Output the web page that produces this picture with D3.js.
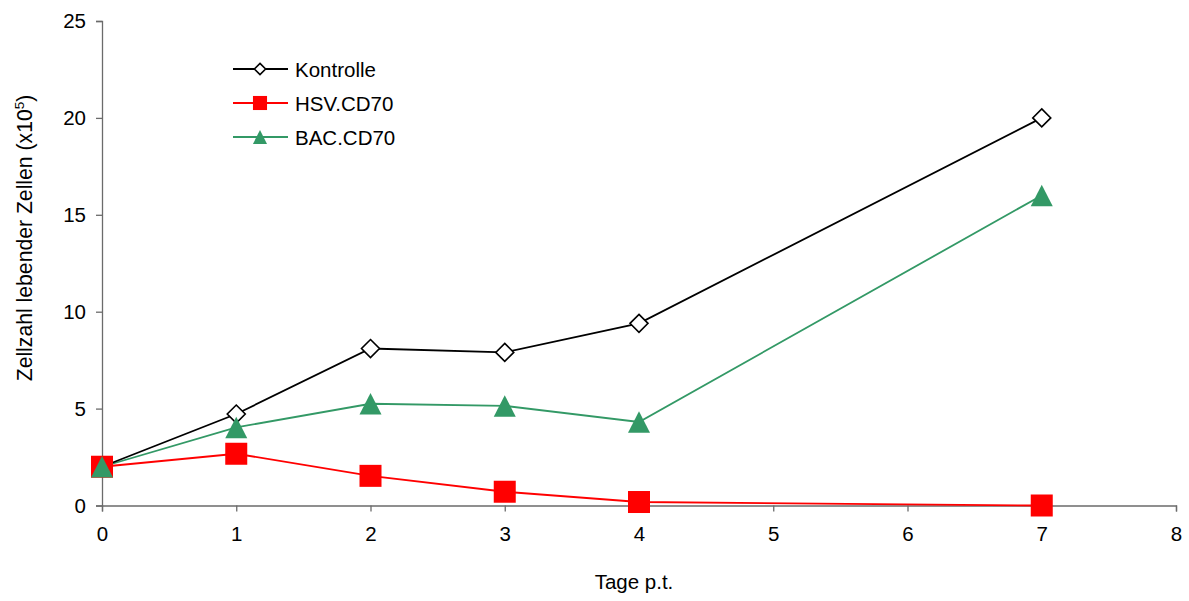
<!DOCTYPE html>
<html>
<head>
<meta charset="utf-8">
<script src="https://cdn.jsdelivr.net/npm/d3@7"></script>
<style>
  html, body { margin: 0; padding: 0; background: #fff; }
  svg { display: block; font-family: "Liberation Sans", Arial, sans-serif; }
</style>
</head>
<body>
<svg id="chart" width="1189" height="601"></svg>
<script>
// Tage nach Transfektion und Zellzahlen (x10^5)
const days = [0, 1, 2, 3, 4, 7];
const kontrolle = [2.0, 4.72, 8.1, 7.9, 9.4, 20.0];
const hsvCD70 = [2.0, 2.67, 1.53, 0.71, 0.18, 0.0];
const bacCD70 = [2.0, 4.03, 5.25, 5.14, 4.31, 16.0];
const seriesNames = ["Kontrolle", "HSV.CD70", "BAC.CD70"];
const xTicks = [0, 1, 2, 3, 4, 5, 6, 7, 8];
const yTicks = [0, 5, 10, 15, 20, 25];

const svg = d3.select("#chart");
const W = 1189, H = 601;
const margin = { left: 102, top: 21, right: W - 1176, bottom: H - 505.5 };

const x = d3.scaleLinear().domain([0, 8]).range([margin.left, W - margin.right]);
const y = d3.scaleLinear().domain([0, 25]).range([H - margin.bottom, margin.top]);

const axisColor = "#6b6b6b";
const fontSize = "20.5px";

// Achsen
const xAxis = svg.append("g")
  .attr("transform", `translate(0,${y(0)})`)
  .call(d3.axisBottom(x).tickValues(xTicks).tickSize(6).tickPadding(15).tickFormat(d3.format("d")));
const yAxis = svg.append("g")
  .attr("transform", `translate(${x(0)},0)`)
  .call(d3.axisLeft(y).tickValues(yTicks).tickSize(6).tickPadding(10).tickFormat(d3.format("d")));

[xAxis, yAxis].forEach(g => {
  g.select(".domain").attr("stroke", axisColor).attr("stroke-width", 1.3);
  g.selectAll(".tick line").attr("stroke", axisColor).attr("stroke-width", 1.3);
  g.selectAll(".tick text").attr("fill", "#000").style("font-size", fontSize)
    .style("font-family", "'Liberation Sans', Arial, sans-serif");
});

// Achsentitel
svg.append("text")
  .attr("x", 634).attr("y", 589)
  .attr("text-anchor", "middle")
  .style("font-size", fontSize)
  .text("Tage p.t.");

const yTitle = svg.append("text")
  .attr("transform", `translate(32,238) rotate(-90)`)
  .attr("text-anchor", "middle")
  .style("font-size", "21.2px");
yTitle.append("tspan").text("Zellzahl lebender Zellen (x10");
yTitle.append("tspan").attr("dy", -8).style("font-size", "13.5px").text("5");
yTitle.append("tspan").attr("dy", 8).text(")");

// Linien und Marker
const series = [
  { name: seriesNames[0], values: kontrolle, color: "#000000", marker: "diamond" },
  { name: seriesNames[1], values: hsvCD70, color: "#ff0000", marker: "square" },
  { name: seriesNames[2], values: bacCD70, color: "#339966", marker: "triangle" }
];

const line = d3.line().x(d => x(d[0])).y(d => y(d[1]));

function drawMarker(g, type, cx, cy, scale, color) {
  if (type === "diamond") {
    const r = 9 * scale;
    g.append("path")
      .attr("d", `M${cx},${cy - r}L${cx + r},${cy}L${cx},${cy + r}L${cx - r},${cy}Z`)
      .attr("fill", "#fff").attr("stroke", color).attr("stroke-width", 1.6);
  } else if (type === "square") {
    const s = 22 * scale;
    g.append("rect")
      .attr("x", cx - s / 2).attr("y", cy - s / 2)
      .attr("width", s).attr("height", s)
      .attr("fill", color);
  } else {
    const w = 22 * scale, h = 21.5 * scale;
    g.append("path")
      .attr("d", `M${cx},${cy - h / 2}L${cx + w / 2},${cy + h / 2}L${cx - w / 2},${cy + h / 2}Z`)
      .attr("fill", color);
  }
}

// Linien: HSV zuerst, dann BAC, Kontrolle oben
const drawOrder = [series[1], series[2], series[0]];
drawOrder.forEach(s => {
  const pts = days.map((d, i) => [d, s.values[i]]);
  svg.append("path")
    .attr("d", line(pts))
    .attr("fill", "none")
    .attr("stroke", s.color)
    .attr("stroke-width", 1.8);
});
// Marker nach den Linien
series.forEach(s => {
  const g = svg.append("g");
  days.forEach((d, i) => drawMarker(g, s.marker, x(d), y(s.values[i]), 1, s.color));
});

// Legende
const legend = svg.append("g");
series.forEach((s, i) => {
  const ly = 69 + i * 34;
  legend.append("line")
    .attr("x1", 233).attr("x2", 288).attr("y1", ly).attr("y2", ly)
    .attr("stroke", s.color).attr("stroke-width", 1.8);
  drawMarker(legend, s.marker, 260, ly, s.marker === "diamond" ? 0.62 : 0.64, s.color);
  legend.append("text")
    .attr("x", 295).attr("y", ly + 7.5)
    .style("font-size", fontSize)
    .text(s.name);
});
</script>
</body>
</html>
